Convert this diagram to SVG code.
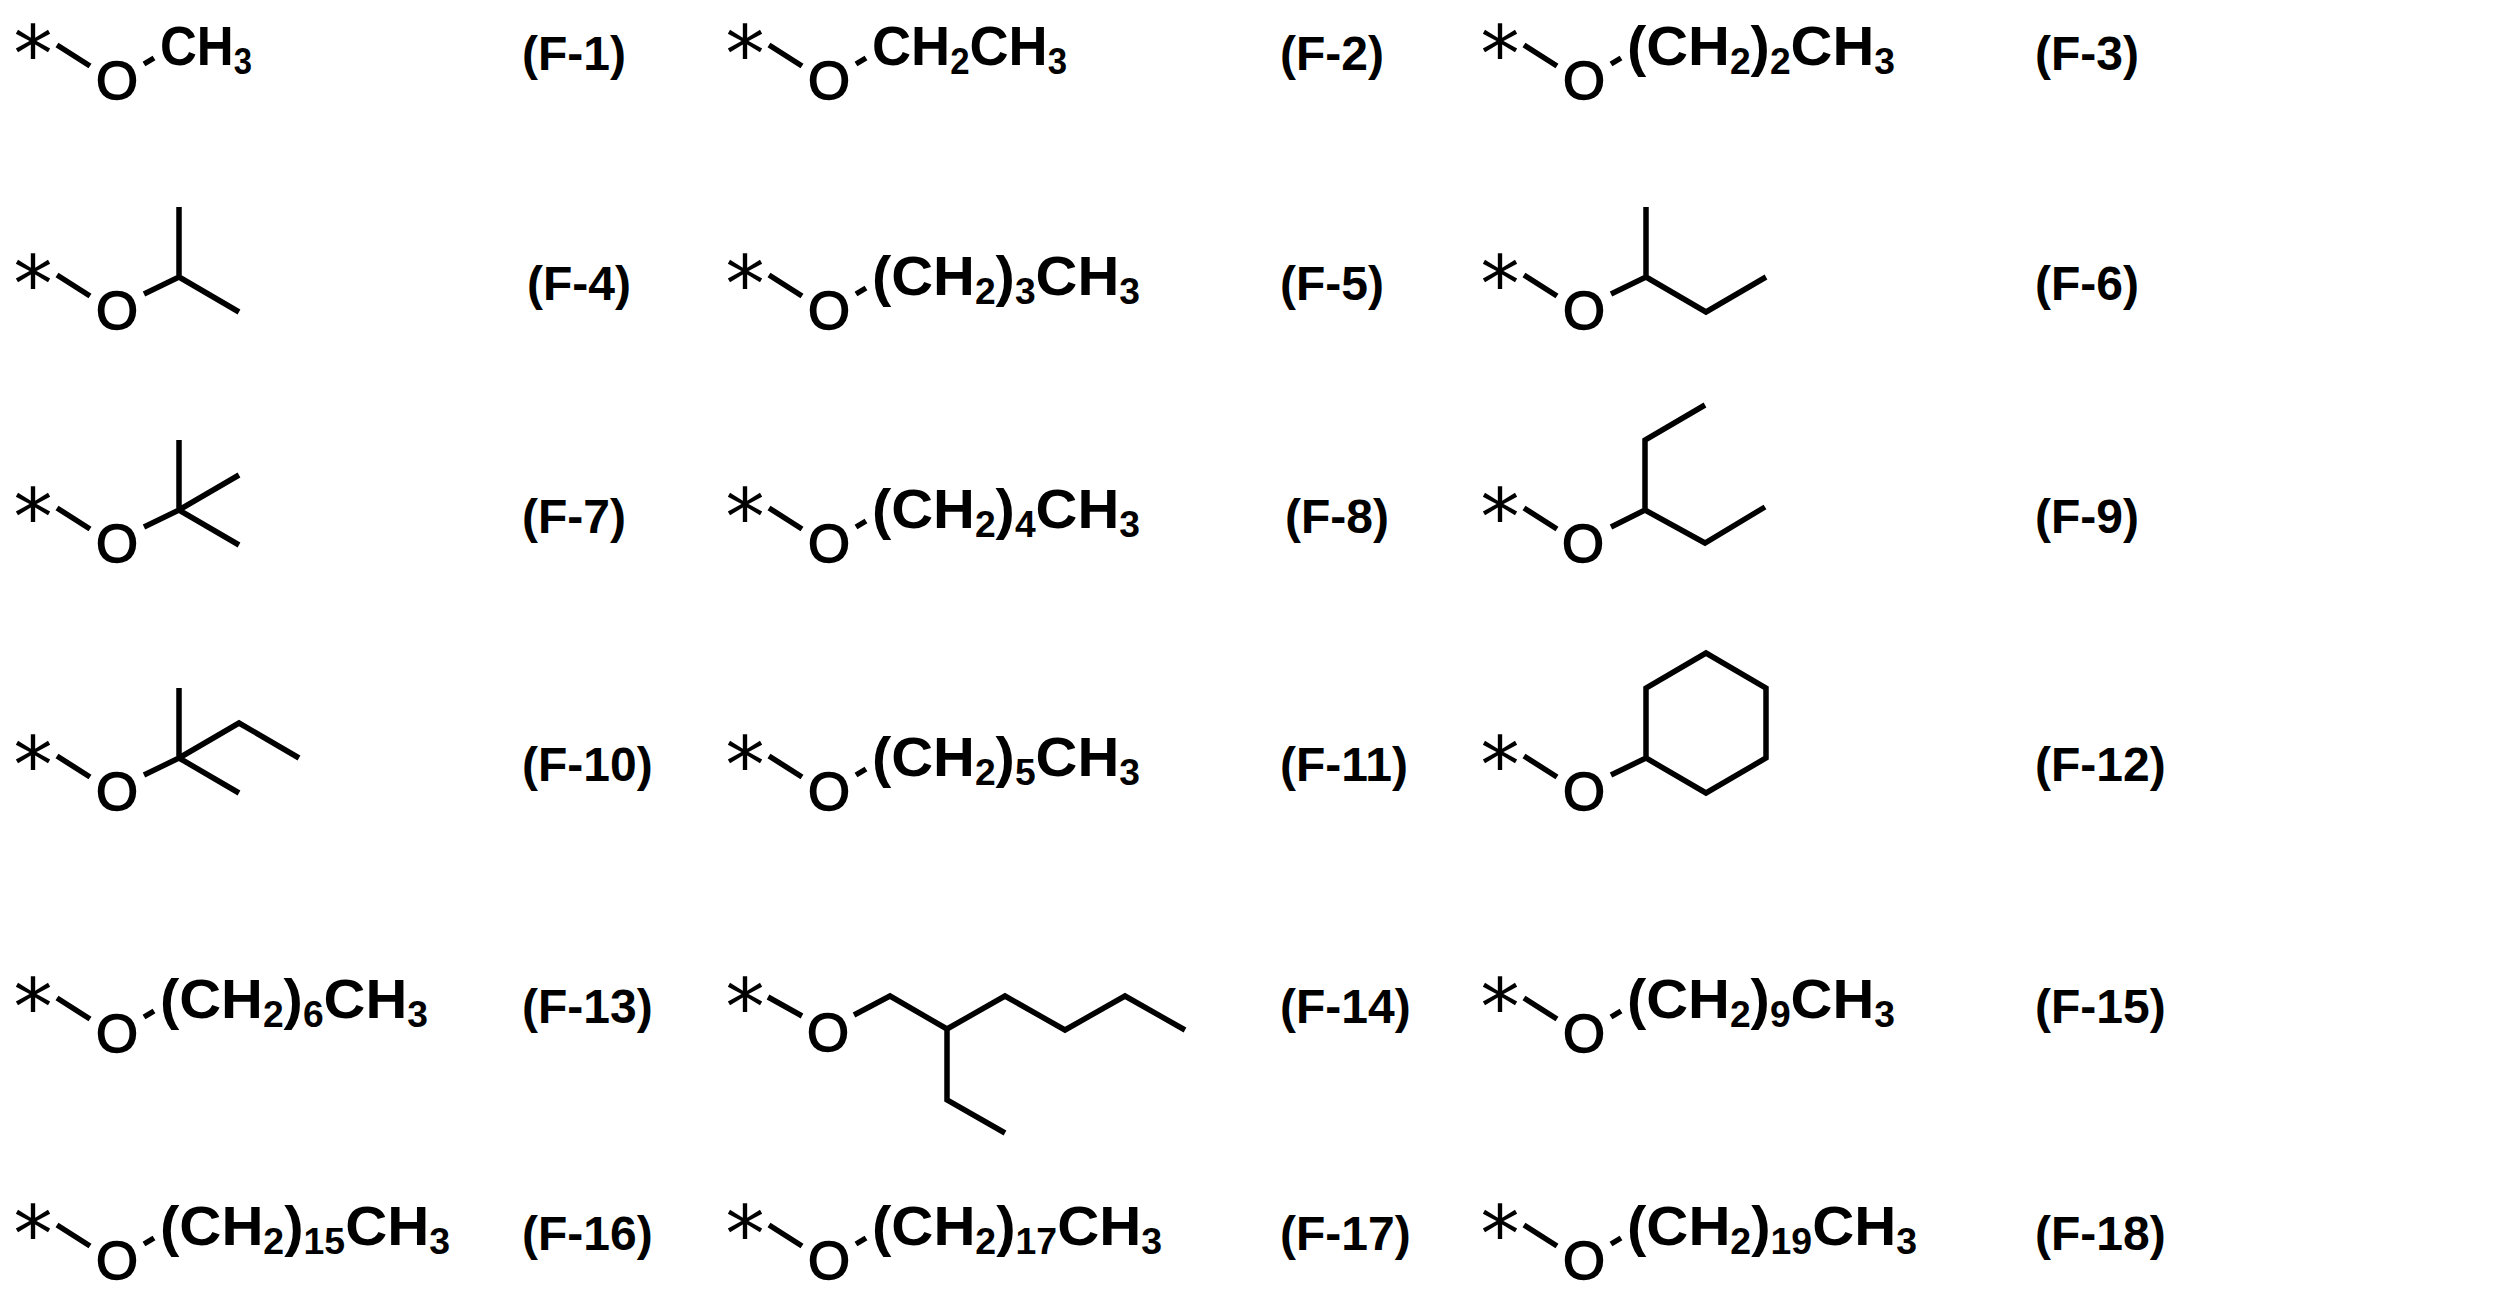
<svg xmlns="http://www.w3.org/2000/svg" width="2516" height="1293" viewBox="0 0 2516 1293">
<style>
.b{stroke:#000;stroke-width:5.5;fill:none;stroke-linecap:butt;stroke-linejoin:miter}
.st{font-family:"DejaVu Sans",sans-serif;font-size:78px;text-anchor:middle}
.o{font-family:"Liberation Sans",Arial,sans-serif;font-size:54px;text-anchor:middle;stroke:#000;stroke-width:1.6}
.f{font-family:"Liberation Sans",Arial,sans-serif;font-size:56px;font-weight:bold}
.s{font-size:36px}
.l{font-family:"Liberation Sans",Arial,sans-serif;font-size:48px;font-weight:bold}
</style>
<rect width="2516" height="1293" fill="#fff"/>
<g id="connectors">
<path class="b" d="M57 45L90 66M144 64L154 58"/>
<path class="b" d="M769 45L802 66M856 64L866 58"/>
<path class="b" d="M1524 45L1557 66M1611 64L1621 58"/>
<path class="b" d="M57 275L90 296M144 294L179 277L179 207M179 277L239 312"/>
<path class="b" d="M769 275L802 296M856 294L866 288"/>
<path class="b" d="M1524 275L1557 296M1611 294L1646 277L1646 207M1646 277L1706 312L1766 277"/>
<path class="b" d="M57 508L90 529M144 527L179 510L179 440M179 510L239 475M179 510L239 545"/>
<path class="b" d="M769 508L802 529M856 527L866 521"/>
<path class="b" d="M1524 508L1557 529M1611 527L1645 510L1645 440L1705 405M1645 510L1705 543L1765 507"/>
<path class="b" d="M57 756L90 777M144 775L179 758L179 688M179 758L239 793M179 758L239 723L299 758"/>
<path class="b" d="M769 756L802 777M856 775L866 769"/>
<path class="b" d="M1524 756L1557 777M1611 775L1646 758M1646 758L1646 688L1706 653L1766 688L1766 758L1706 793Z"/>
<path class="b" d="M57 998L90 1019M144 1017L154 1011"/>
<path class="b" d="M768 997L802 1016M854 1015L890 996L947 1029L1005 996L1065 1030L1125 996L1185 1030M947 1029L947 1100L1005 1133"/>
<path class="b" d="M1524 998L1557 1019M1611 1017L1621 1011"/>
<path class="b" d="M57 1225L90 1246M144 1244L154 1238"/>
<path class="b" d="M769 1225L802 1246M856 1244L866 1238"/>
<path class="b" d="M1524 1225L1557 1246M1611 1244L1621 1238"/>
</g>
<g id="F-1"><text class="st" x="33" y="81">*</text><text class="o" x="117" y="99">O</text><text class="f" x="160" y="65" textLength="92" lengthAdjust="spacingAndGlyphs">CH<tspan class="s" dy="9">3</tspan></text><text class="l" x="522" y="70">(F-1)</text></g>
<g id="F-2"><text class="st" x="745" y="81">*</text><text class="o" x="829" y="99">O</text><text class="f" x="872" y="65" textLength="195" lengthAdjust="spacingAndGlyphs">CH<tspan class="s" dy="9">2</tspan><tspan dy="-9">CH</tspan><tspan class="s" dy="9">3</tspan></text><text class="l" x="1280" y="70">(F-2)</text></g>
<g id="F-3"><text class="st" x="1500" y="81">*</text><text class="o" x="1584" y="99">O</text><text class="f" x="1627" y="65" textLength="268" lengthAdjust="spacingAndGlyphs">(CH<tspan class="s" dy="9">2</tspan><tspan dy="-9">)</tspan><tspan class="s" dy="9">2</tspan><tspan dy="-9">CH</tspan><tspan class="s" dy="9">3</tspan></text><text class="l" x="2035" y="70">(F-3)</text></g>

<g id="F-4"><text class="st" x="33" y="311">*</text><text class="o" x="117" y="329">O</text><text class="l" x="527" y="300">(F-4)</text></g>
<g id="F-5"><text class="st" x="745" y="311">*</text><text class="o" x="829" y="329">O</text><text class="f" x="872" y="295" textLength="268" lengthAdjust="spacingAndGlyphs">(CH<tspan class="s" dy="9">2</tspan><tspan dy="-9">)</tspan><tspan class="s" dy="9">3</tspan><tspan dy="-9">CH</tspan><tspan class="s" dy="9">3</tspan></text><text class="l" x="1280" y="300">(F-5)</text></g>
<g id="F-6"><text class="st" x="1500" y="311">*</text><text class="o" x="1584" y="329">O</text><text class="l" x="2035" y="300">(F-6)</text></g>

<g id="F-7"><text class="st" x="33" y="544">*</text><text class="o" x="117" y="562">O</text><text class="l" x="522" y="533">(F-7)</text></g>
<g id="F-8"><text class="st" x="745" y="544">*</text><text class="o" x="829" y="562">O</text><text class="f" x="872" y="528" textLength="268" lengthAdjust="spacingAndGlyphs">(CH<tspan class="s" dy="9">2</tspan><tspan dy="-9">)</tspan><tspan class="s" dy="9">4</tspan><tspan dy="-9">CH</tspan><tspan class="s" dy="9">3</tspan></text><text class="l" x="1285" y="533">(F-8)</text></g>
<g id="F-9"><text class="st" x="1500" y="544">*</text><text class="o" x="1583" y="562">O</text><text class="l" x="2035" y="533">(F-9)</text></g>

<g id="F-10"><text class="st" x="33" y="792">*</text><text class="o" x="117" y="810">O</text><text class="l" x="522" y="781">(F-10)</text></g>
<g id="F-11"><text class="st" x="745" y="792">*</text><text class="o" x="829" y="810">O</text><text class="f" x="872" y="776" textLength="268" lengthAdjust="spacingAndGlyphs">(CH<tspan class="s" dy="9">2</tspan><tspan dy="-9">)</tspan><tspan class="s" dy="9">5</tspan><tspan dy="-9">CH</tspan><tspan class="s" dy="9">3</tspan></text><text class="l" x="1280" y="781">(F-11)</text></g>
<g id="F-12"><text class="st" x="1500" y="792">*</text><text class="o" x="1584" y="810">O</text><text class="l" x="2035" y="781">(F-12)</text></g>

<g id="F-13"><text class="st" x="33" y="1034">*</text><text class="o" x="117" y="1052">O</text><text class="f" x="160" y="1018" textLength="268" lengthAdjust="spacingAndGlyphs">(CH<tspan class="s" dy="9">2</tspan><tspan dy="-9">)</tspan><tspan class="s" dy="9">6</tspan><tspan dy="-9">CH</tspan><tspan class="s" dy="9">3</tspan></text><text class="l" x="522" y="1023">(F-13)</text></g>
<g id="F-14"><text class="st" x="745" y="1034">*</text><text class="o" x="828" y="1051">O</text><text class="l" x="1280" y="1023">(F-14)</text></g>
<g id="F-15"><text class="st" x="1500" y="1034">*</text><text class="o" x="1584" y="1052">O</text><text class="f" x="1627" y="1018" textLength="268" lengthAdjust="spacingAndGlyphs">(CH<tspan class="s" dy="9">2</tspan><tspan dy="-9">)</tspan><tspan class="s" dy="9">9</tspan><tspan dy="-9">CH</tspan><tspan class="s" dy="9">3</tspan></text><text class="l" x="2035" y="1023">(F-15)</text></g>

<g id="F-16"><text class="st" x="33" y="1261">*</text><text class="o" x="117" y="1279">O</text><text class="f" x="160" y="1245" textLength="290" lengthAdjust="spacingAndGlyphs">(CH<tspan class="s" dy="9">2</tspan><tspan dy="-9">)</tspan><tspan class="s" dy="9">15</tspan><tspan dy="-9">CH</tspan><tspan class="s" dy="9">3</tspan></text><text class="l" x="522" y="1250">(F-16)</text></g>
<g id="F-17"><text class="st" x="745" y="1261">*</text><text class="o" x="829" y="1279">O</text><text class="f" x="872" y="1245" textLength="290" lengthAdjust="spacingAndGlyphs">(CH<tspan class="s" dy="9">2</tspan><tspan dy="-9">)</tspan><tspan class="s" dy="9">17</tspan><tspan dy="-9">CH</tspan><tspan class="s" dy="9">3</tspan></text><text class="l" x="1280" y="1250">(F-17)</text></g>
<g id="F-18"><text class="st" x="1500" y="1261">*</text><text class="o" x="1584" y="1279">O</text><text class="f" x="1627" y="1245" textLength="290" lengthAdjust="spacingAndGlyphs">(CH<tspan class="s" dy="9">2</tspan><tspan dy="-9">)</tspan><tspan class="s" dy="9">19</tspan><tspan dy="-9">CH</tspan><tspan class="s" dy="9">3</tspan></text><text class="l" x="2035" y="1250">(F-18)</text></g>
</svg>
